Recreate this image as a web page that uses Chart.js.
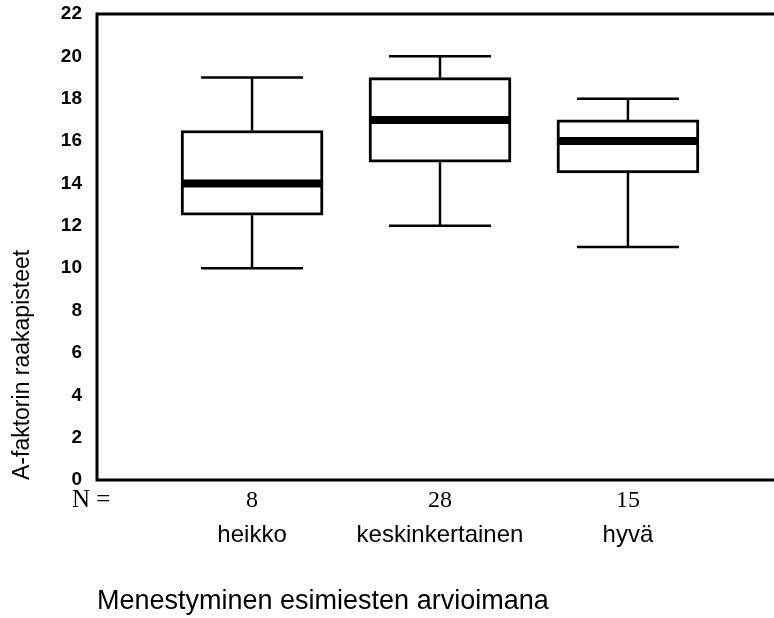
<!DOCTYPE html>
<html>
<head>
<meta charset="utf-8">
<script src="https://cdn.jsdelivr.net/npm/chart.js@4.4.0/dist/chart.umd.min.js"></script>
<style>
  html, body { margin: 0; padding: 0; background: #fff; overflow: hidden; }
</style>
</head>
<body>
<canvas id="boxChart" width="800" height="618"></canvas>
<script>
// data
const categories = ['heikko', 'keskinkertainen', 'hyvä'];
const nCounts = [8, 28, 15];
const whiskerLow = [10, 12, 11];
const q1 = [12.5, 15, 14.5];
const medians = [14, 17, 16];
const q3 = [16.5, 19, 17];
const whiskerHigh = [19, 20, 18];
const yTicks = [0, 2, 4, 6, 8, 10, 12, 14, 16, 18, 20, 22];

const sans = '"Liberation Sans", Arial, sans-serif';
const serif = '"Liberation Serif", "Times New Roman", serif';

const boxes = categories.map((c, i) => ({ x: i + 1, y: [q1[i], q3[i]] }));

// whiskers, medians, frame and the "N =" text
const boxParts = {
  id: 'boxParts',
  afterDatasetsDraw(chart) {
    const ctx = chart.ctx;
    const xs = chart.scales.x;
    const ys = chart.scales.y;
    const half = chart.getDatasetMeta(0).data[0].width / 2;
    ctx.save();
    ctx.strokeStyle = '#000';
    ctx.lineCap = 'butt';
    function line(x1, y1, x2, y2) {
      ctx.beginPath();
      ctx.moveTo(x1, y1);
      ctx.lineTo(x2, y2);
      ctx.stroke();
    }
    for (let i = 0; i < categories.length; i++) {
      const cx = xs.getPixelForValue(i + 1);
      const yHi = ys.getPixelForValue(whiskerHigh[i]);
      const yLo = ys.getPixelForValue(whiskerLow[i]);
      ctx.lineWidth = 2.5;
      line(cx, ys.getPixelForValue(q3[i]), cx, yHi);
      line(cx, ys.getPixelForValue(q1[i]), cx, yLo);
      line(cx - 51, yHi, cx + 51, yHi);
      line(cx - 51, yLo, cx + 51, yLo);
      ctx.lineWidth = 8;
      const ym = ys.getPixelForValue(medians[i]);
      line(cx - half, ym, cx + half, ym);
    }
    const a = chart.chartArea;
    ctx.lineWidth = 3;
    ctx.strokeRect(a.left, a.top, a.right - a.left, a.bottom - a.top);

    ctx.fillStyle = '#000';
    ctx.font = '25px ' + serif;
    ctx.textAlign = 'left';
    ctx.textBaseline = 'middle';
    ctx.fillText('N =', 72, xs.top + 6 + 14.4);
    ctx.restore();
  }
};

const config = {
  type: 'bar',
  data: {
    datasets: [{
      data: boxes,
      xAxisID: 'x',
      yAxisID: 'y',
      backgroundColor: '#fff',
      borderColor: '#000',
      borderWidth: 3,
      borderSkipped: false,
      barThickness: 142
    }]
  },
  options: {
    responsive: false,
    animation: false,
    devicePixelRatio: 1,
    layout: { padding: { top: 14, right: 17, bottom: 0, left: 0 } },
    plugins: { legend: { display: false }, tooltip: { enabled: false } },
    scales: {
      x: {
        type: 'linear',
        position: 'bottom',
        weight: 0,
        min: 0.175,
        max: 3.825,
        offset: false,
        grid: { display: false, drawTicks: false },
        border: { display: false },
        afterBuildTicks: s => { s.ticks = nCounts.map((n, i) => ({ value: i + 1 })); },
        afterFit: s => { s.height = 34; },
        ticks: {
          autoSkip: false,
          maxRotation: 0,
          padding: 6,
          color: '#000',
          font: { family: serif, size: 24 },
          callback: (v) => nCounts[v - 1]
        }
      },
      x2: {
        type: 'linear',
        position: 'bottom',
        weight: 1,
        min: 0.175,
        max: 3.825,
        offset: false,
        grid: { display: false, drawTicks: false },
        border: { display: false },
        afterBuildTicks: s => { s.ticks = categories.map((c, i) => ({ value: i + 1 })); },
        afterFit: s => { s.height = 104; },
        ticks: {
          autoSkip: false,
          maxRotation: 0,
          padding: 7,
          color: '#000',
          font: { family: sans, size: 24 },
          callback: (v) => categories[v - 1]
        },
        title: {
          display: true,
          text: 'Menestyminen esimiesten arvioimana',
          align: 'start',
          color: '#000',
          font: { family: sans, size: 27 },
          padding: { top: 40, bottom: 0 }
        }
      },
      y: {
        min: 0,
        max: 22,
        grid: { display: false, drawTicks: false },
        border: { display: false },
        afterBuildTicks: s => { s.ticks = yTicks.map(v => ({ value: v })); },
        afterFit: s => { s.width = 97; s.paddingTop = 0; s.paddingBottom = 0; },
        ticks: {
          padding: 15,
          color: '#000',
          font: { family: sans, size: 19, weight: 'bold' }
        },
        title: {
          display: true,
          text: 'A-faktorin raakapisteet',
          align: 'start',
          color: '#000',
          font: { family: sans, size: 23 },
          padding: { top: 9, bottom: 0 }
        }
      }
    }
  },
  plugins: [boxParts]
};

new Chart(document.getElementById('boxChart'), config);
</script>
</body>
</html>
